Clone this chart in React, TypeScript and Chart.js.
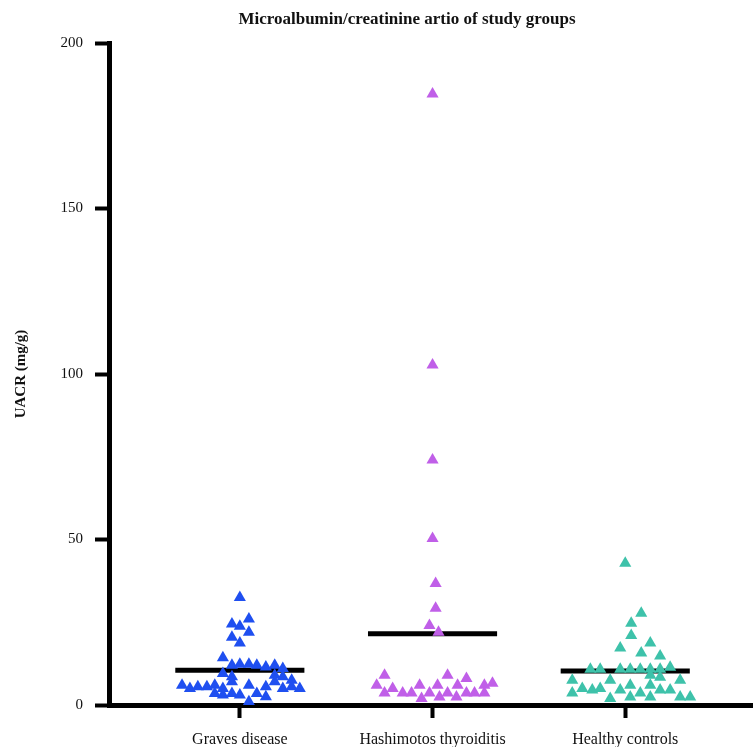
import React, { useEffect, useRef } from "react";
import { Chart, registerables } from "chart.js";

Chart.register(...registerables);

const TITLE = "Microalbumin/creatinine artio of study groups";
const Y_TITLE = "UACR (mg/g)";
const categories = ["Graves disease", "Hashimotos thyroiditis", "Healthy controls"];
const yTicks = [0, 50, 100, 150, 200];
const colors = ["#1f4ff0", "#c05fe8", "#3ec2aa"];

// UACR values (mg/g) and beeswarm jitter offsets (category units)
const gravesValues = [32.5, 26, 24.5, 23.8, 22, 20.5, 18.7, 14.3, 12, 12.3, 12.3, 12, 11.5, 12, 11, 9.5, 9, 8.5, 7.5, 8.5, 6, 5, 5.5, 5.5, 6, 5, 7, 6, 5.5, 7, 5, 5.5, 5, 3.5, 3, 3.5, 3, 3.5, 2.5, 1];
const gravesJitter = [0, 0.047, -0.041, 0, 0.047, -0.041, 0, -0.088, -0.041, 0, 0.047, 0.088, 0.135, 0.181, 0.223, -0.088, 0.181, 0.223, 0.269, -0.041, -0.3, -0.259, -0.218, -0.171, -0.13, -0.088, -0.041, 0.047, 0.135, 0.181, 0.223, 0.269, 0.311, -0.13, -0.088, -0.041, 0, 0.088, 0.135, 0.047];

const hashimotoValues = [184.6, 102.7, 74, 50.3, 36.7, 29.2, 24, 22, 9, 6, 3.6, 5, 3.6, 3.6, 6, 2, 3.6, 6, 2.4, 9, 3.6, 6, 2.4, 8, 3.6, 3.6, 6, 3.6, 6.6];
const hashimotoJitter = [0, 0, 0, 0, 0.016, 0.016, -0.016, 0.031, -0.249, -0.29, -0.249, -0.207, -0.155, -0.109, -0.067, -0.057, -0.016, 0.026, 0.036, 0.078, 0.078, 0.13, 0.124, 0.176, 0.176, 0.218, 0.269, 0.269, 0.311];

const healthyValues = [42.8, 27.7, 24.7, 21, 18.7, 17.2, 15.7, 14.8, 11.4, 10.8, 10.8, 10.8, 10.8, 10.8, 10.8, 10.8, 9, 8.4, 7.5, 7.5, 6, 6, 7.5, 5, 4.5, 5, 4.5, 3.6, 4.5, 4.5, 3.6, 2, 2.4, 2.4, 2.4, 2.4];
const healthyJitter = [0, 0.083, 0.031, 0.031, 0.13, -0.026, 0.083, 0.181, 0.233, -0.181, -0.13, -0.026, 0.026, 0.078, 0.13, 0.181, 0.13, 0.181, -0.275, -0.078, 0.026, 0.13, 0.285, -0.223, -0.171, -0.13, -0.026, 0.078, 0.181, 0.233, -0.275, -0.078, 0.026, 0.13, 0.285, 0.337];

const groupMeans = [10.5, 21.5, 10.3];
const MEAN_HALF_WIDTH = 0.335;

export default function App() {
  const ref = useRef<HTMLCanvasElement | null>(null);

  useEffect(() => {
    document.body.style.margin = "0";
    const canvas = ref.current;
    if (!canvas) return;

    const groups = [
      [gravesValues, gravesJitter],
      [hashimotoValues, hashimotoJitter],
      [healthyValues, healthyJitter],
    ];

    const scatterSets = groups.map(([vals, jit], gi) => ({
      type: "scatter" as const,
      label: categories[gi],
      data: vals.map((v, i) => ({ x: gi + 1 + jit[i], y: v })),
      pointStyle: "triangle",
      pointRadius: 7,
      pointBorderWidth: 0,
      backgroundColor: colors[gi],
      borderColor: colors[gi],
      order: 0,
    }));

    const meanSets = groupMeans.map((m, gi) => ({
      type: "line" as const,
      label: categories[gi] + " mean",
      data: [
        { x: gi + 1 - MEAN_HALF_WIDTH, y: m },
        { x: gi + 1 + MEAN_HALF_WIDTH, y: m },
      ],
      borderColor: "#000",
      borderWidth: 5,
      pointRadius: 0,
      order: 1,
    }));

    const titlePlugin = {
      id: "customTitle",
      afterDraw(chart: any) {
        const ctx = chart.ctx;
        ctx.save();
        ctx.font = "bold 17px 'Liberation Serif'";
        ctx.fillStyle = "#111";
        ctx.textAlign = "center";
        ctx.textBaseline = "middle";
        ctx.fillText(TITLE, 407, 20);
        ctx.restore();
      },
    };

    const chart = new Chart(canvas, {
      type: "scatter",
      data: { datasets: [...scatterSets, ...meanSets] as any },
      plugins: [titlePlugin],
      options: {
        animation: false,
        responsive: false,
        layout: { autoPadding: false, padding: { top: 43, right: 0, left: 0, bottom: 0 } },
        plugins: {
          legend: { display: false },
          tooltip: { enabled: false },
          title: { display: false },
        },
        scales: {
          x: {
            type: "linear",
            min: 0.321,
            max: 3.663,
            afterBuildTicks: (scale: any) => {
              scale.ticks = categories.map((_, i) => ({ value: i + 1 }));
            },
            afterFit: (scale: any) => {
              scale.height = 42;
              scale.paddingLeft = 0;
              scale.paddingRight = 0;
            },
            ticks: {
              callback: (v: any) => categories[Math.round(Number(v)) - 1] ?? "",
              font: { family: "'Liberation Serif'", size: 16 },
              color: "#111",
              padding: 12,
              maxRotation: 0,
              autoSkip: false,
            },
            grid: {
              display: true,
              drawOnChartArea: false,
              drawTicks: true,
              tickLength: 13,
              tickWidth: 4,
              tickColor: "#000",
            },
            border: { display: true, color: "#000", width: 5 },
          },
          y: {
            type: "linear",
            min: 0,
            max: 200,
            afterBuildTicks: (scale: any) => {
              scale.ticks = yTicks.map((v) => ({ value: v }));
            },
            afterFit: (scale: any) => {
              scale.width = 109;
              scale.paddingTop = 0;
              scale.paddingBottom = 0;
            },
            ticks: {
              font: { family: "'Liberation Serif'", size: 15 },
              color: "#111",
              padding: 12,
            },
            title: {
              display: true,
              text: Y_TITLE,
              font: { family: "'Liberation Serif'", size: 15, weight: "bold" },
              color: "#111",
              padding: { top: 12, bottom: 0 },
            },
            grid: {
              display: true,
              drawOnChartArea: false,
              drawTicks: true,
              tickLength: 14,
              tickWidth: 4,
              tickColor: "#000",
            },
            border: { display: true, color: "#000", width: 5 },
          },
        },
      } as any,
    });

    return () => chart.destroy();
  }, []);

  return (
    <div style={{ width: 753, height: 747 }}>
      <canvas ref={ref} width={753} height={747} style={{ display: "block" }} />
    </div>
  );
}
